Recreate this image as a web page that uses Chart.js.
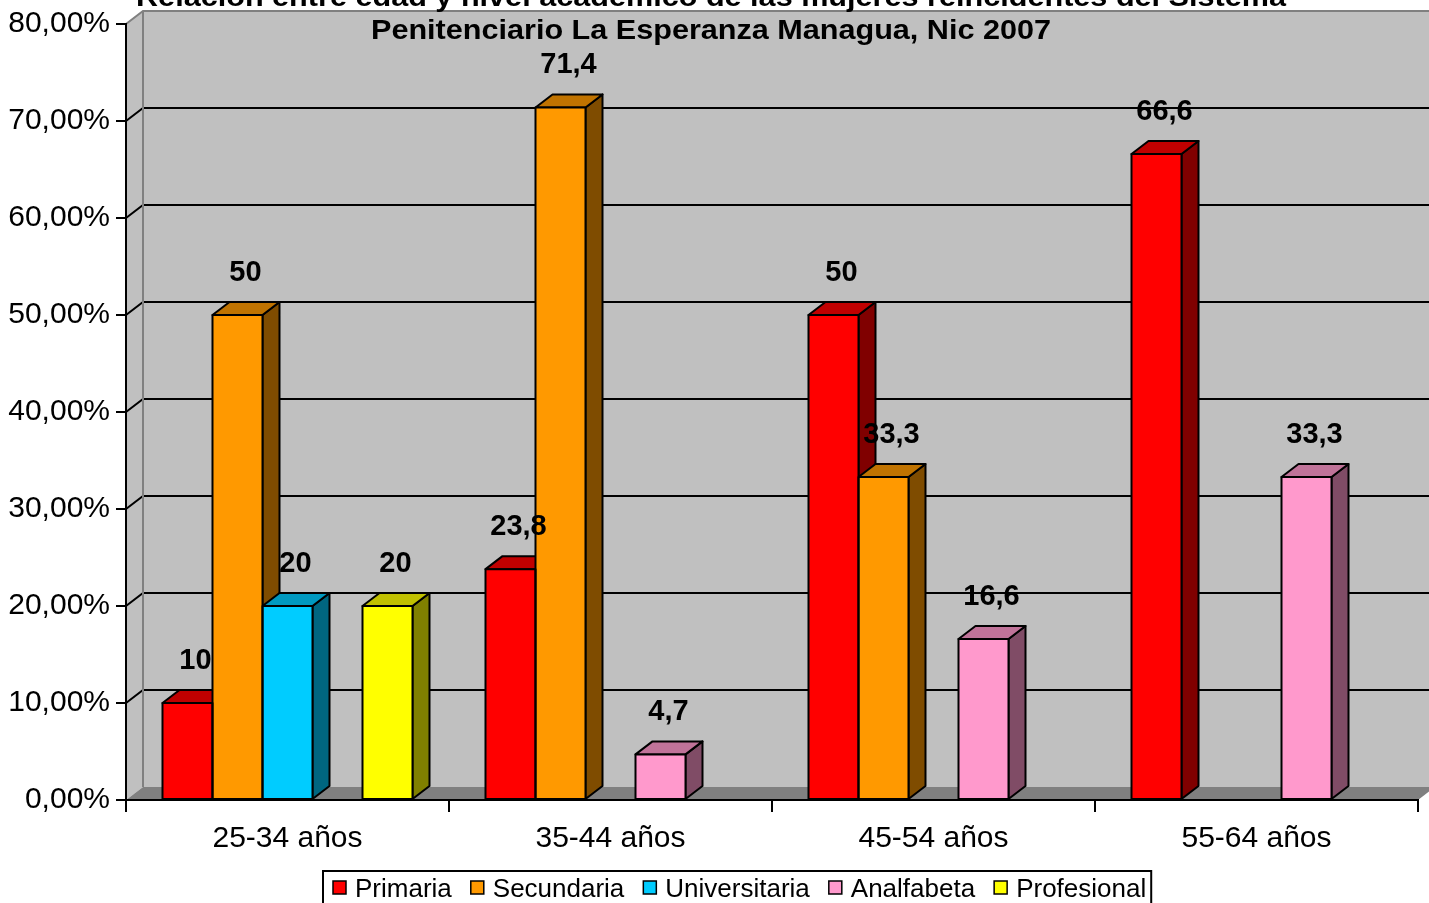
<!DOCTYPE html>
<html>
<head>
<meta charset="utf-8">
<title>Relación entre edad y nivel académico</title>
<script src="https://cdn.jsdelivr.net/npm/chart.js@4/dist/chart.umd.min.js"></script>
<style>
  html, body { margin: 0; padding: 0; background: #fff; }
  #wrap { width: 1429px; height: 903px; position: relative; }
</style>
</head>
<body>
<div id="wrap"><canvas id="chart"></canvas></div>
<script>
// Data
var categories = ['25-34 años', '35-44 años', '45-54 años', '55-64 años'];
var primaria = [10, 23.8, 50, 66.6];
var secundaria = [50, 71.4, 33.3, null];
var universitaria = [20, null, null, null];
var analfabeta = [null, 4.7, 16.6, 33.3];
var profesional = [20, null, null, null];
var yTicks = [0, 10, 20, 30, 40, 50, 60, 70, 80];

var titleLines = [
    'Relación entre edad y nivel académico de las mujeres reincidentes del Sistema',
    'Penitenciario La Esperanza Managua, Nic 2007'
];

var FONT = '"Liberation Sans", Arial, sans-serif';
var DX = 17, DY = 13; // depth of the 3D effect

// face colours: front, top, side
var palette = {
    'Primaria':      ['#FF0000', '#C00000', '#800000'],
    'Secundaria':    ['#FF9900', '#C07300', '#7F4C00'],
    'Universitaria': ['#00CCFF', '#0099C0', '#006680'],
    'Analfabeta':    ['#FF99CC', '#C07399', '#804C66'],
    'Profesional':   ['#FFFF00', '#C0C000', '#808000']
};

function makeSet(label, values) {
    return {
        label: label,
        data: values,
        backgroundColor: palette[label][0],
        borderWidth: 0,
        categoryPercentage: 0.774,
        barPercentage: 1.0
    };
}

function poly(ctx, pts, fill, stroke, lw) {
    ctx.beginPath();
    ctx.moveTo(pts[0][0], pts[0][1]);
    for (var i = 1; i < pts.length; i++) ctx.lineTo(pts[i][0], pts[i][1]);
    ctx.closePath();
    if (fill) { ctx.fillStyle = fill; ctx.fill(); }
    if (stroke) { ctx.strokeStyle = stroke; ctx.lineWidth = lw || 2; ctx.stroke(); }
}

// Walls, floor and back gridlines
var wallsPlugin = {
    id: 'walls',
    beforeDraw: function(chart) {
        var ctx = chart.ctx, a = chart.chartArea, y = chart.scales.y;
        var top = y.getPixelForValue(80), bot = y.getPixelForValue(0);
        ctx.save();
        ctx.fillStyle = '#fff';
        ctx.fillRect(0, 0, chart.width, chart.height);
        // back wall
        ctx.fillStyle = '#C0C0C0';
        ctx.fillRect(a.left + DX, top - DY, chart.width, bot - top);
        // left wall
        poly(ctx, [[a.left, top], [a.left + DX, top - DY], [a.left + DX, bot - DY], [a.left, bot]], '#C0C0C0');
        // floor
        poly(ctx, [[a.left, bot], [a.left + DX, bot - DY], [a.right + DX, bot - DY], [a.right, bot]], '#808080');
        // gridlines
        ctx.lineWidth = 2;
        yTicks.forEach(function(v) {
            if (v === 0) return;
            var py = y.getPixelForValue(v);
            ctx.strokeStyle = v === 80 ? '#808080' : '#000';
            ctx.beginPath();
            ctx.moveTo(a.left, py);
            ctx.lineTo(a.left + DX, py - DY);
            ctx.lineTo(chart.width, py - DY);
            ctx.stroke();
        });
        // back corner edge
        ctx.strokeStyle = '#808080';
        ctx.beginPath();
        ctx.moveTo(a.left + DX, top - DY);
        ctx.lineTo(a.left + DX, bot - DY);
        ctx.stroke();
        ctx.restore();
    },
    beforeDatasetsDraw: function(chart) {
        var ctx = chart.ctx;
        ctx.save();
        ctx.lineJoin = 'round';
        var items = [];
        chart.data.datasets.forEach(function(ds, di) {
            chart.getDatasetMeta(di).data.forEach(function(el, i) {
                if (ds.data[i] == null) return;
                items.push({ el: el.getProps(['x', 'y', 'base', 'width'], true), c: palette[ds.label] });
            });
        });
        items.sort(function(p, q) { return p.el.x - q.el.x; });
        items.forEach(function(it) {
            var e = it.el, L = e.x - e.width / 2, R = e.x + e.width / 2;
            poly(ctx, [[R, e.y], [R + DX, e.y - DY], [R + DX, e.base - DY], [R, e.base]], it.c[2], '#000', 2);
            poly(ctx, [[L, e.y], [L + DX, e.y - DY], [R + DX, e.y - DY], [R, e.y]], it.c[1], '#000', 2);
        });
        ctx.restore();
    },
    afterDatasetsDraw: function(chart) {
        var ctx = chart.ctx;
        ctx.save();
        ctx.lineJoin = 'round';
        chart.data.datasets.forEach(function(ds, di) {
            chart.getDatasetMeta(di).data.forEach(function(el, i) {
                var v = ds.data[i];
                if (v == null) return;
                var e = el.getProps(['x', 'y', 'base', 'width'], true);
                ctx.strokeStyle = '#000';
                ctx.lineWidth = 2;
                ctx.strokeRect(e.x - e.width / 2, e.y, e.width, e.base - e.y);
                // value label
                ctx.fillStyle = '#000';
                ctx.font = 'bold 29px ' + FONT;
                ctx.textAlign = 'center';
                ctx.textBaseline = 'middle';
                ctx.fillText(String(v).replace('.', ','), e.x + 8, e.y - 42);
            });
        });
        ctx.restore();
    },
    afterDraw: function(chart) {
        var ctx = chart.ctx;
        ctx.save();
        // title
        ctx.fillStyle = '#000';
        ctx.font = 'bold 28px ' + FONT;
        ctx.textAlign = 'center';
        ctx.textBaseline = 'alphabetic';
        var widths = [1150, 680], bases = [6, 39];
        titleLines.forEach(function(t, i) {
            var w = ctx.measureText(t).width;
            ctx.save();
            ctx.translate(711, bases[i]);
            ctx.scale(widths[i] / w, 1);
            ctx.fillText(t, 0, 0);
            ctx.restore();
        });
        // legend
        ctx.font = '26px ' + FONT;
        ctx.textAlign = 'left';
        var x = 333, yb = 897;
        chart.data.datasets.forEach(function(ds) {
            ctx.fillStyle = palette[ds.label][0];
            ctx.fillRect(x, 881, 13, 13);
            ctx.strokeStyle = '#000';
            ctx.lineWidth = 1.5;
            ctx.strokeRect(x, 881, 13, 13);
            ctx.fillStyle = '#000';
            ctx.fillText(ds.label, x + 22, yb);
            x += 22 + ctx.measureText(ds.label).width + 19;
        });
        ctx.strokeStyle = '#000';
        ctx.lineWidth = 2;
        ctx.strokeRect(323, 871, x - 19 + 5 - 323, 40);
        ctx.restore();
    }
};

new Chart(document.getElementById('chart'), {
    type: 'bar',
    data: {
        labels: categories,
        datasets: [
            makeSet('Primaria', primaria),
            makeSet('Secundaria', secundaria),
            makeSet('Universitaria', universitaria),
            makeSet('Analfabeta', analfabeta),
            makeSet('Profesional', profesional)
        ]
    },
    options: {
        responsive: true,
        maintainAspectRatio: false,
        devicePixelRatio: 1,
        animation: false,
        layout: { padding: { top: 24, right: 11, bottom: 38, left: 0 } },
        plugins: {
            legend: { display: false },
            title: { display: false },
            tooltip: { enabled: false }
        },
        scales: {
            y: {
                min: 0,
                max: 80,
                afterFit: function(s) { s.width = 126; },
                afterBuildTicks: function(s) { s.ticks = yTicks.map(function(v) { return { value: v }; }); },
                ticks: {
                    color: '#000',
                    font: { family: FONT, size: 30 },
                    padding: 6,
                    callback: function(v) { return v.toFixed(2).replace('.', ',') + '%'; }
                },
                grid: { drawOnChartArea: false, drawTicks: true, tickLength: 10, color: '#000', lineWidth: 2 },
                border: { color: '#000', width: 2 }
            },
            x: {
                afterFit: function(s) { s.height = 65; },
                ticks: {
                    color: '#000',
                    font: { family: FONT, size: 30 },
                    padding: 9
                },
                grid: { offset: true, drawOnChartArea: false, drawTicks: true, tickLength: 12, color: '#000', lineWidth: 2 },
                border: { color: '#000', width: 2 }
            }
        }
    },
    plugins: [wallsPlugin]
});
</script>
</body>
</html>
